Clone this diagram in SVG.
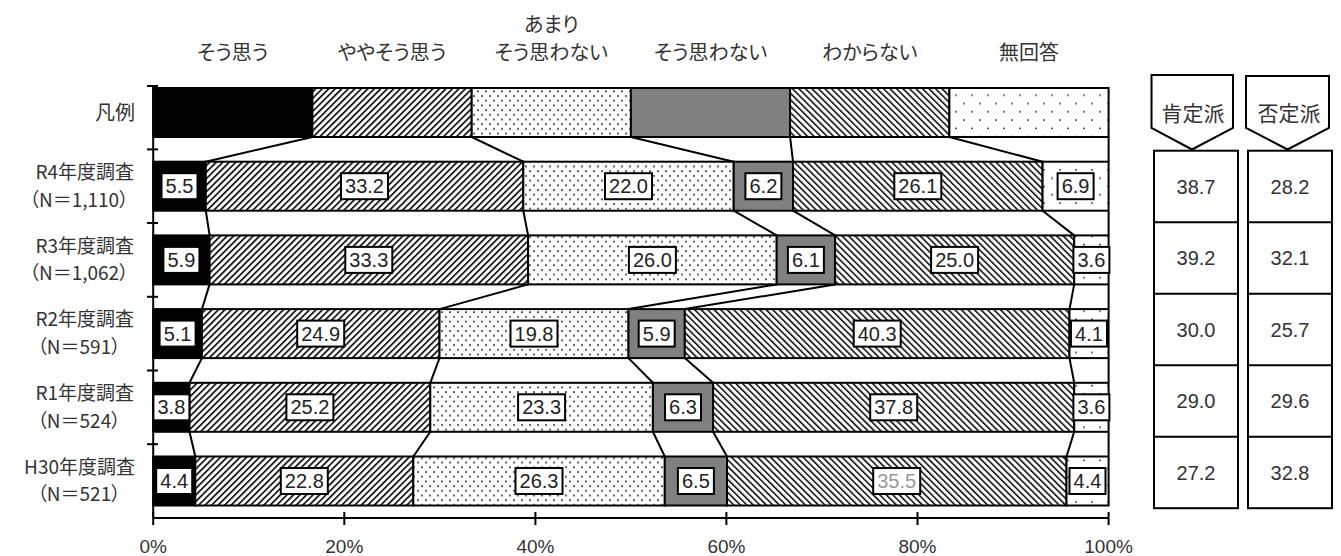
<svg xmlns="http://www.w3.org/2000/svg" width="1341" height="556" viewBox="0 0 1341 556">
<style>
.jp{font-family:"Noto Sans CJK JP","Noto Sans",sans-serif;font-size:20px;fill:#333;font-feature-settings:"palt"}
.lab{font-family:"Noto Sans CJK JP","Noto Sans",sans-serif;font-size:19px;fill:#333;font-feature-settings:"palt"}
.hd{font-family:"Noto Sans CJK JP","Noto Sans",sans-serif;font-size:21px;fill:#333;text-anchor:middle}
.num{font-family:"Liberation Sans",Arial,sans-serif;font-size:20px;fill:#222;text-anchor:middle}
.rnum{font-family:"Liberation Sans",Arial,sans-serif;font-size:20px;fill:#333;text-anchor:middle}
.ax{font-family:"Liberation Sans",Arial,sans-serif;font-size:19px;fill:#333;text-anchor:middle}
.seg{stroke:#000;stroke-width:2}
.lb{fill:#fff;stroke:#000;stroke-width:2}
.ln{stroke:#000;stroke-width:2;fill:none}
.s1{fill:#000}
.s2{fill:url(#hatchF)}
.s3{fill:url(#dotA)}
.s4{fill:#808080}
.s5{fill:url(#hatchB)}
.s6{fill:url(#dotB)}
</style>
<defs>
<pattern id="hatchF" patternUnits="userSpaceOnUse" width="4.6" height="10" patternTransform="rotate(45)">
<rect width="4.6" height="10" fill="#fff"/>
<rect x="0" y="0" width="1.6" height="10" fill="#000"/>
</pattern>
<pattern id="hatchB" patternUnits="userSpaceOnUse" width="4.6" height="10" patternTransform="rotate(-45)">
<rect width="4.6" height="10" fill="#fff"/>
<rect x="0" y="0" width="1.5" height="10" fill="#000"/>
</pattern>
<pattern id="dotA" patternUnits="userSpaceOnUse" width="8" height="9.4">
<rect width="8" height="9.4" fill="#fff"/>
<circle cx="2" cy="2" r="0.95" fill="#333"/>
<circle cx="6" cy="6.7" r="0.95" fill="#333"/>
</pattern>
<pattern id="dotB" patternUnits="userSpaceOnUse" width="16" height="16.6">
<rect width="16" height="16.6" fill="#fff"/>
<circle cx="4" cy="4" r="1" fill="#444"/>
<circle cx="12" cy="12.3" r="1" fill="#444"/>
</pattern>
</defs>
<rect width="1341" height="556" fill="#fff"/>

<g id="category-labels">
<text class="jp" x="232.8" y="60" text-anchor="middle">そう思う</text>
<text class="jp" x="392" y="60" text-anchor="middle">ややそう思う</text>
<text class="jp" x="551.3" y="32" text-anchor="middle">あまり</text>
<text class="jp" x="551.3" y="60" text-anchor="middle">そう思わない</text>
<text class="jp" x="710.5" y="60" text-anchor="middle">そう思わない</text>
<text class="jp" x="869.8" y="60" text-anchor="middle">わからない</text>
<text class="jp" x="1029" y="60" text-anchor="middle">無回答</text>
</g>

<g id="axes">
<line class="ln" x1="153.2" y1="86" x2="153.2" y2="518"/>
<line class="ln" x1="147" y1="86" x2="158" y2="86"/>
<line class="ln" x1="147" y1="149.4" x2="158" y2="149.4"/>
<line class="ln" x1="147" y1="223" x2="158" y2="223"/>
<line class="ln" x1="147" y1="296.8" x2="158" y2="296.8"/>
<line class="ln" x1="147" y1="370.5" x2="158" y2="370.5"/>
<line class="ln" x1="147" y1="444.2" x2="158" y2="444.2"/>
<line class="ln" x1="153.2" y1="518" x2="1108.6" y2="518"/>
<line class="ln" x1="153.2" y1="512" x2="153.2" y2="525"/>
<line class="ln" x1="344.3" y1="512" x2="344.3" y2="525"/>
<line class="ln" x1="535.4" y1="512" x2="535.4" y2="525"/>
<line class="ln" x1="726.4" y1="512" x2="726.4" y2="525"/>
<line class="ln" x1="917.5" y1="512" x2="917.5" y2="525"/>
<line class="ln" x1="1108.6" y1="512" x2="1108.6" y2="525"/>
<text class="ax" x="153.2" y="553">0%</text>
<text class="ax" x="344.3" y="553">20%</text>
<text class="ax" x="535.4" y="553">40%</text>
<text class="ax" x="726.4" y="553">60%</text>
<text class="ax" x="917.5" y="553">80%</text>
<text class="ax" x="1108.6" y="553">100%</text>
</g>

<g id="connectors">
<line class="ln" x1="312.4" y1="137" x2="205.8" y2="161.7"/>
<line class="ln" x1="471.7" y1="137" x2="523.3" y2="161.7"/>
<line class="ln" x1="630.9" y1="137" x2="733.7" y2="161.7"/>
<line class="ln" x1="790.1" y1="137" x2="793" y2="161.7"/>
<line class="ln" x1="949.4" y1="137" x2="1042.6" y2="161.7"/>
<line class="ln" x1="1108.6" y1="137" x2="1108.6" y2="161.7"/>

<line class="ln" x1="205.8" y1="210.7" x2="209.6" y2="235.4"/>
<line class="ln" x1="523.3" y1="210.7" x2="528.1" y2="235.4"/>
<line class="ln" x1="733.7" y1="210.7" x2="776.7" y2="235.4"/>
<line class="ln" x1="793" y1="210.7" x2="835.1" y2="235.4"/>
<line class="ln" x1="1042.6" y1="210.7" x2="1074.2" y2="235.4"/>
<line class="ln" x1="1108.6" y1="210.7" x2="1108.6" y2="235.4"/>

<line class="ln" x1="209.6" y1="284.4" x2="201.9" y2="309.1"/>
<line class="ln" x1="528.1" y1="284.4" x2="439.5" y2="309.1"/>
<line class="ln" x1="776.7" y1="284.4" x2="628.5" y2="309.1"/>
<line class="ln" x1="835.1" y1="284.4" x2="684.8" y2="309.1"/>
<line class="ln" x1="1074.2" y1="284.4" x2="1069.5" y2="309.1"/>
<line class="ln" x1="1108.6" y1="284.4" x2="1108.6" y2="309.1"/>

<line class="ln" x1="201.9" y1="358.1" x2="189.5" y2="382.8"/>
<line class="ln" x1="439.5" y1="358.1" x2="430.3" y2="382.8"/>
<line class="ln" x1="628.5" y1="358.1" x2="652.9" y2="382.8"/>
<line class="ln" x1="684.8" y1="358.1" x2="713.1" y2="382.8"/>
<line class="ln" x1="1069.5" y1="358.1" x2="1074.2" y2="382.8"/>
<line class="ln" x1="1108.6" y1="358.1" x2="1108.6" y2="382.8"/>

<line class="ln" x1="189.5" y1="431.8" x2="195.3" y2="456.5"/>
<line class="ln" x1="430.3" y1="431.8" x2="413.3" y2="456.5"/>
<line class="ln" x1="652.9" y1="431.8" x2="664.8" y2="456.5"/>
<line class="ln" x1="713.1" y1="431.8" x2="727" y2="456.5"/>
<line class="ln" x1="1074.2" y1="431.8" x2="1066.5" y2="456.5"/>
<line class="ln" x1="1108.6" y1="431.8" x2="1108.6" y2="456.5"/>
</g>

<g id="row-legend">
<text class="jp" x="135" y="120" text-anchor="end">凡例</text>
<rect class="seg s1" x="153.2" y="88" width="159.2" height="49"/>
<rect class="seg s2" x="312.4" y="88" width="159.3" height="49"/>
<rect class="seg s3" x="471.7" y="88" width="159.2" height="49"/>
<rect class="seg s4" x="630.9" y="88" width="159.2" height="49"/>
<rect class="seg s5" x="790.1" y="88" width="159.3" height="49"/>
<rect class="seg s6" x="949.4" y="88" width="159.2" height="49"/>
</g>

<g id="row-R4">
<text class="lab" x="134" y="179" text-anchor="end">R4年度調査</text>
<text class="lab" x="79" y="206.5" text-anchor="middle">（N＝1,110）</text>
<rect class="seg s1" x="153.2" y="161.7" width="52.6" height="49"/>
<rect class="seg s2" x="205.8" y="161.7" width="317.5" height="49"/>
<rect class="seg s3" x="523.3" y="161.7" width="210.4" height="49"/>
<rect class="seg s4" x="733.7" y="161.7" width="59.3" height="49"/>
<rect class="seg s5" x="793" y="161.7" width="249.6" height="49"/>
<rect class="seg s6" x="1042.6" y="161.7" width="66" height="49"/>
<rect class="lb" x="161.5" y="173.2" width="36" height="26"/><text class="num" x="179.5" y="193.2">5.5</text>
<rect class="lb" x="341" y="173.2" width="47" height="26"/><text class="num" x="364.5" y="193.2">33.2</text>
<rect class="lb" x="605" y="173.2" width="47" height="26"/><text class="num" x="628.5" y="193.2">22.0</text>
<rect class="lb" x="745.4" y="173.2" width="36" height="26"/><text class="num" x="763.4" y="193.2">6.2</text>
<rect class="lb" x="894.3" y="173.2" width="47" height="26"/><text class="num" x="917.8" y="193.2">26.1</text>
<rect class="lb" x="1057.6" y="173.2" width="36" height="26"/><text class="num" x="1075.6" y="193.2">6.9</text>
</g>

<g id="row-R3">
<text class="lab" x="134" y="252.7" text-anchor="end">R3年度調査</text>
<text class="lab" x="79" y="280.2" text-anchor="middle">（N＝1,062）</text>
<rect class="seg s1" x="153.2" y="235.4" width="56.4" height="49"/>
<rect class="seg s2" x="209.6" y="235.4" width="318.5" height="49"/>
<rect class="seg s3" x="528.1" y="235.4" width="248.6" height="49"/>
<rect class="seg s4" x="776.7" y="235.4" width="58.4" height="49"/>
<rect class="seg s5" x="835.1" y="235.4" width="239.1" height="49"/>
<rect class="seg s6" x="1074.2" y="235.4" width="34.4" height="49"/>
<rect class="lb" x="163.4" y="246.9" width="36" height="26"/><text class="num" x="181.4" y="266.9">5.9</text>
<rect class="lb" x="345.3" y="246.9" width="47" height="26"/><text class="num" x="368.8" y="266.9">33.3</text>
<rect class="lb" x="628.9" y="246.9" width="47" height="26"/><text class="num" x="652.4" y="266.9">26.0</text>
<rect class="lb" x="787.9" y="246.9" width="36" height="26"/><text class="num" x="805.9" y="266.9">6.1</text>
<rect class="lb" x="931.1" y="246.9" width="47" height="26"/><text class="num" x="954.6" y="266.9">25.0</text>
<rect class="lb" x="1073.4" y="246.9" width="36" height="26"/><text class="num" x="1091.4" y="266.9">3.6</text>
</g>

<g id="row-R2">
<text class="lab" x="134" y="326.4" text-anchor="end">R2年度調査</text>
<text class="lab" x="79" y="353.9" text-anchor="middle">（N＝591）</text>
<rect class="seg s1" x="153.2" y="309.1" width="48.7" height="49"/>
<rect class="seg s2" x="201.9" y="309.1" width="237.6" height="49"/>
<rect class="seg s3" x="439.5" y="309.1" width="189" height="49"/>
<rect class="seg s4" x="628.5" y="309.1" width="56.3" height="49"/>
<rect class="seg s5" x="684.8" y="309.1" width="384.7" height="49"/>
<rect class="seg s6" x="1069.5" y="309.1" width="39.1" height="49"/>
<rect class="lb" x="159.6" y="320.6" width="36" height="26"/><text class="num" x="177.6" y="340.6">5.1</text>
<rect class="lb" x="297.2" y="320.6" width="47" height="26"/><text class="num" x="320.7" y="340.6">24.9</text>
<rect class="lb" x="510.5" y="320.6" width="47" height="26"/><text class="num" x="534" y="340.6">19.8</text>
<rect class="lb" x="638.7" y="320.6" width="36" height="26"/><text class="num" x="656.7" y="340.6">5.9</text>
<rect class="lb" x="853.7" y="320.6" width="47" height="26"/><text class="num" x="877.2" y="340.6">40.3</text>
<rect class="lb" x="1071" y="320.6" width="36" height="26"/><text class="num" x="1089" y="340.6">4.1</text>
</g>

<g id="row-R1">
<text class="lab" x="134" y="400.1" text-anchor="end">R1年度調査</text>
<text class="lab" x="79" y="427.6" text-anchor="middle">（N＝524）</text>
<rect class="seg s1" x="153.2" y="382.8" width="36.3" height="49"/>
<rect class="seg s2" x="189.5" y="382.8" width="240.8" height="49"/>
<rect class="seg s3" x="430.3" y="382.8" width="222.6" height="49"/>
<rect class="seg s4" x="652.9" y="382.8" width="60.2" height="49"/>
<rect class="seg s5" x="713.1" y="382.8" width="361.1" height="49"/>
<rect class="seg s6" x="1074.2" y="382.8" width="34.4" height="49"/>
<rect class="lb" x="153.4" y="394.3" width="36" height="26"/><text class="num" x="171.4" y="414.3">3.8</text>
<rect class="lb" x="286.4" y="394.3" width="47" height="26"/><text class="num" x="309.9" y="414.3">25.2</text>
<rect class="lb" x="518.1" y="394.3" width="47" height="26"/><text class="num" x="541.6" y="414.3">23.3</text>
<rect class="lb" x="665" y="394.3" width="36" height="26"/><text class="num" x="683" y="414.3">6.3</text>
<rect class="lb" x="870.2" y="394.3" width="47" height="26"/><text class="num" x="893.7" y="414.3">37.8</text>
<rect class="lb" x="1073.4" y="394.3" width="36" height="26"/><text class="num" x="1091.4" y="414.3">3.6</text>
</g>

<g id="row-H30">
<text class="lab" x="135" y="473.8" text-anchor="end">H30年度調査</text>
<text class="lab" x="79" y="501.3" text-anchor="middle">（N＝521）</text>
<rect class="seg s1" x="153.2" y="456.5" width="42.1" height="49"/>
<rect class="seg s2" x="195.3" y="456.5" width="218" height="49"/>
<rect class="seg s3" x="413.3" y="456.5" width="251.5" height="49"/>
<rect class="seg s4" x="664.8" y="456.5" width="62.2" height="49"/>
<rect class="seg s5" x="727" y="456.5" width="339.5" height="49"/>
<rect class="seg s6" x="1066.5" y="456.5" width="42.1" height="49"/>
<rect class="lb" x="156.2" y="468" width="36" height="26"/><text class="num" x="174.2" y="488">4.4</text>
<rect class="lb" x="280.8" y="468" width="47" height="26"/><text class="num" x="304.3" y="488">22.8</text>
<rect class="lb" x="515.5" y="468" width="47" height="26"/><text class="num" x="539" y="488">26.3</text>
<rect class="lb" x="677.9" y="468" width="36" height="26"/><text class="num" x="695.9" y="488">6.5</text>
<rect class="lb" x="873.2" y="468" width="47" height="26"/><text class="num" x="896.7" y="488" style="fill:#999">35.5</text>
<rect class="lb" x="1069.5" y="468" width="36" height="26"/><text class="num" x="1087.5" y="488">4.4</text>
</g>

<g id="positive-column">
<polygon class="lb" points="1151.5,75 1233,75 1233,128 1192,149.5 1151.5,128"/>
<text class="hd" x="1193" y="121">肯定派</text>
<rect class="lb" x="1154" y="150.7" width="84" height="357.5"/>
<line class="ln" x1="1154" y1="222.2" x2="1238" y2="222.2"/>
<line class="ln" x1="1154" y1="293.7" x2="1238" y2="293.7"/>
<line class="ln" x1="1154" y1="365.2" x2="1238" y2="365.2"/>
<line class="ln" x1="1154" y1="436.7" x2="1238" y2="436.7"/>
<text class="rnum" x="1196" y="193.5">38.7</text>
<text class="rnum" x="1196" y="265">39.2</text>
<text class="rnum" x="1196" y="336.5">30.0</text>
<text class="rnum" x="1196" y="408">29.0</text>
<text class="rnum" x="1196" y="479.5">27.2</text>
</g>

<g id="negative-column">
<polygon class="lb" points="1246,76 1329,76 1329,128 1287.5,149.5 1246,128"/>
<text class="hd" x="1289" y="121">否定派</text>
<rect class="lb" x="1248" y="150.7" width="84" height="357.5"/>
<line class="ln" x1="1248" y1="222.2" x2="1332" y2="222.2"/>
<line class="ln" x1="1248" y1="293.7" x2="1332" y2="293.7"/>
<line class="ln" x1="1248" y1="365.2" x2="1332" y2="365.2"/>
<line class="ln" x1="1248" y1="436.7" x2="1332" y2="436.7"/>
<text class="rnum" x="1290" y="193.5">28.2</text>
<text class="rnum" x="1290" y="265">32.1</text>
<text class="rnum" x="1290" y="336.5">25.7</text>
<text class="rnum" x="1290" y="408">29.6</text>
<text class="rnum" x="1290" y="479.5">32.8</text>
</g>
</svg>
